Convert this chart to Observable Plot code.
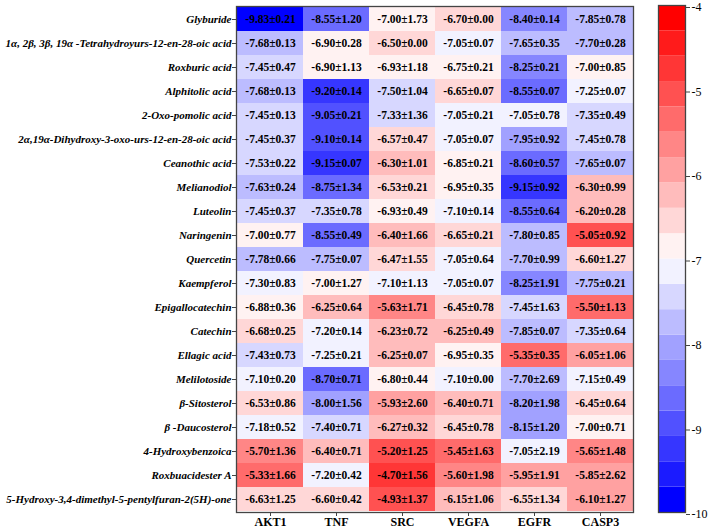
<!DOCTYPE html>
<html><head><meta charset="utf-8">
<script src="https://cdn.jsdelivr.net/npm/d3@7"></script>
<script src="https://cdn.jsdelivr.net/npm/@observablehq/plot@0.6"></script>
<style>
body{margin:0;background:#fff;}
#wrap{position:relative;width:708px;height:529px;overflow:hidden;}
#main{position:absolute;left:0;top:0;}
#legend{position:absolute;left:640px;top:0;}
</style></head><body><div id="wrap"><div id="main"></div><div id="legend"></div></div>
<script>
const compounds = [
  "Glyburide",
  "1α, 2β, 3β, 19α -Tetrahydroyurs-12-en-28-oic acid",
  "Roxburic acid",
  "Alphitolic acid",
  "2-Oxo-pomolic acid",
  "2α,19α-Dihydroxy-3-oxo-urs-12-en-28-oic acid",
  "Ceanothic acid",
  "Melianodiol",
  "Luteolin",
  "Naringenin",
  "Quercetin",
  "Kaempferol",
  "Epigallocatechin",
  "Catechin",
  "Ellagic acid",
  "Melilotoside",
  "β-Sitosterol",
  "β -Daucosterol",
  "4-Hydroxybenzoica",
  "Roxbuacidester A",
  "5-Hydroxy-3,4-dimethyl-5-pentylfuran-2(5H)-one"
];
const targets = ["AKT1", "TNF", "SRC", "VEGFA", "EGFR", "CASP3"];

const akt1Mean  = [-9.83,-7.68,-7.45,-7.68,-7.45,-7.45,-7.53,-7.63,-7.45,-7.00,-7.78,-7.30,-6.88,-6.68,-7.43,-7.10,-6.53,-7.18,-5.70,-5.33,-6.63];
const akt1Sd    = [0.21,0.13,0.47,0.13,0.13,0.37,0.22,0.24,0.37,0.77,0.66,0.83,0.36,0.25,0.73,0.20,0.86,0.52,1.36,1.66,1.25];
const tnfMean   = [-8.55,-6.90,-6.90,-9.20,-9.05,-9.10,-9.15,-8.75,-7.35,-8.55,-7.75,-7.00,-6.25,-7.20,-7.25,-8.70,-8.00,-7.40,-6.40,-7.20,-6.60];
const tnfSd     = [1.20,0.28,1.13,0.14,0.21,0.14,0.07,1.34,0.78,0.49,0.07,1.27,0.64,0.14,0.21,0.71,1.56,0.71,0.71,0.42,0.42];
const srcMean   = [-7.00,-6.50,-6.93,-7.50,-7.33,-6.57,-6.30,-6.53,-6.93,-6.40,-6.47,-7.10,-5.63,-6.23,-6.25,-6.80,-5.93,-6.27,-5.20,-4.70,-4.93];
const srcSd     = [1.73,0.00,1.18,1.04,1.36,0.47,1.01,0.21,0.49,1.66,1.55,1.13,1.71,0.72,0.07,0.44,2.60,0.32,1.25,1.56,1.37];
const vegfaMean = [-6.70,-7.05,-6.75,-6.65,-7.05,-7.05,-6.85,-6.95,-7.10,-6.65,-7.05,-7.05,-6.45,-6.25,-6.95,-7.10,-6.40,-6.45,-5.45,-5.60,-6.15];
const vegfaSd   = [0.00,0.07,0.21,0.07,0.21,0.07,0.21,0.35,0.14,0.21,0.64,0.07,0.78,0.49,0.35,0.00,0.71,0.78,1.63,1.98,1.06];
const egfrMean  = [-8.40,-7.65,-8.25,-8.55,-7.05,-7.95,-8.60,-9.15,-8.55,-7.80,-7.70,-8.25,-7.45,-7.85,-5.35,-7.70,-8.20,-8.15,-7.05,-5.95,-6.55];
const egfrSd    = [0.14,0.35,0.21,0.07,0.78,0.92,0.57,0.92,0.64,0.85,0.99,1.91,1.63,0.07,0.35,2.69,1.98,1.20,2.19,1.91,1.34];
const casp3Mean = [-7.85,-7.70,-7.00,-7.25,-7.35,-7.45,-7.65,-6.30,-6.20,-5.05,-6.60,-7.75,-5.50,-7.35,-6.05,-7.15,-6.45,-7.00,-5.65,-5.85,-6.10];
const casp3Sd   = [0.78,0.28,0.85,0.07,0.49,0.78,0.07,0.99,0.28,0.92,1.27,0.21,1.13,0.64,1.06,0.49,0.64,0.71,1.48,2.62,1.27];

const legendTicks = [-4, -5, -6, -7, -8, -9, -10];
const colorMin = -10, colorMax = -4, colorSteps = 20;

const means = {AKT1: akt1Mean, TNF: tnfMean, SRC: srcMean, VEGFA: vegfaMean, EGFR: egfrMean, CASP3: casp3Mean};
const sds = {AKT1: akt1Sd, TNF: tnfSd, SRC: srcSd, VEGFA: vegfaSd, EGFR: egfrSd, CASP3: casp3Sd};

const cells = [];
compounds.forEach((c, i) => targets.forEach(t => cells.push({compound: c, target: t, mean: means[t][i], sd: sds[t][i]})));

// stepped diverging color scale: blue -> white -> red
const step = (colorMax - colorMin) / colorSteps;
const thresholds = d3.range(1, colorSteps).map(i => +(colorMin + step * i).toFixed(4));
const half = colorSteps / 2;
const colors = d3.range(colorSteps).map(i => {
  if (i < half) return d3.interpolateRgb("#ffffff", "#0000ff")((half - i - 0.5) / (half - 0.5));
  return d3.interpolateRgb("#ffffff", "#ff0000")((i - half + 0.5) / (half - 0.5));
});
const colorScale = {type: "threshold", domain: thresholds, range: colors};
const bands = d3.range(colorSteps).map(i => ({lo: colorMin + step * i, hi: colorMin + step * (i + 1), mid: colorMin + step * (i + 0.5)}));

const font = "'Liberation Serif', 'Times New Roman', serif";

const main = Plot.plot({
  width: 640, height: 529,
  marginLeft: 236, marginTop: 6, marginRight: 7, marginBottom: 17,
  style: {fontFamily: font, background: "#fff", color: "#000"},
  x: {domain: targets, padding: 0, label: null},
  y: {domain: compounds, padding: 0, label: null},
  color: colorScale,
  marks: [
    Plot.cell(cells, {x: "target", y: "compound", fill: "mean", inset: 0}),
    Plot.text(cells, {x: "target", y: "compound", text: d => `${d.mean.toFixed(2)}±${d.sd.toFixed(2)}`, fontWeight: "bold", fontSize: 11.5, fill: "#000"}),
    Plot.frame({stroke: "#444", strokeWidth: 1.3}),
    Plot.axisX({fontWeight: "bold", fontSize: 12, tickSize: 4, tickPadding: 1, stroke: "#444"}),
    Plot.axisY({fontWeight: "bold", fontStyle: "italic", fontSize: 11, tickSize: 4, tickPadding: 1, stroke: "#444"})
  ]
});
document.getElementById("main").appendChild(main);

const legend = Plot.plot({
  width: 68, height: 529,
  marginLeft: 18, marginRight: 23, marginTop: 5, marginBottom: 17,
  style: {fontFamily: font, background: "#fff", color: "#000"},
  y: {domain: [colorMin, colorMax], label: null},
  color: colorScale,
  marks: [
    Plot.rect(bands, {y1: "lo", y2: "hi", fill: "mid"}),
    Plot.frame({stroke: "#444", strokeWidth: 1.3}),
    Plot.axisY({anchor: "right", ticks: legendTicks, tickFormat: d => String(d), fontSize: 12, tickSize: 4, tickPadding: 2, dy: 2, stroke: "#444"})
  ]
});
document.getElementById("legend").appendChild(legend);
</script></body></html>
